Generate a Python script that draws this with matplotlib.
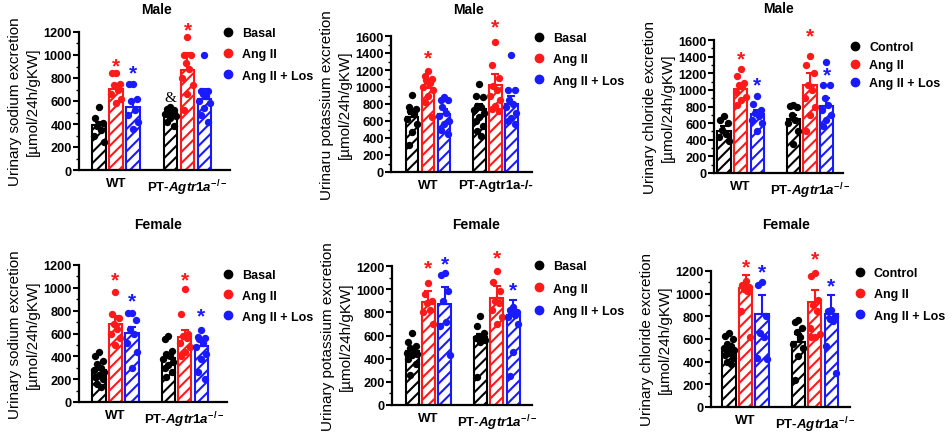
import numpy as np
import matplotlib
matplotlib.use('Agg')
import matplotlib.pyplot as plt
from matplotlib.lines import Line2D
from matplotlib.ticker import MultipleLocator

plt.rcParams['font.family'] = ['Liberation Sans', 'DejaVu Sans']
plt.rcParams['mathtext.fontset'] = 'custom'
plt.rcParams['mathtext.it'] = 'Liberation Sans:italic:bold'
plt.rcParams['mathtext.rm'] = 'Liberation Sans:bold'
plt.rcParams['mathtext.bf'] = 'Liberation Sans:bold'
plt.rcParams['hatch.linewidth'] = 1.5

# ---- dados ----
cores = ['black', '#ff1a1a', '#1a1aff']
pt_label = r'PT-$\mathit{Agtr1a}^{-/-}$'
pt_label_plain = 'PT-Agtr1a-/-'
leg_basal = ['Basal', 'Ang II', 'Ang II + Los']
leg_ctrl = ['Control', 'Ang II', 'Ang II + Los']

# Male sodium
na_m_mean = [390, 702, 552, 494, 870, 621]
na_m_sem = [30, 45, 60, 20, 145, 85]
na_m_pts = [[545, 455, 410, 380, 345, 300, 240],
            [840, 840, 745, 740, 700, 660, 620, 580],
            [745, 745, 620, 600, 520, 480, 420, 360],
            [545, 530, 520, 510, 500, 490, 470, 450, 420, 380],
            [1155, 1000, 1000, 930, 880, 800, 740, 660, 520],
            [1000, 690, 690, 660, 640, 600, 580, 540, 480, 420]]
na_m_star = [None, 905, 847, None, 1222, None]

# Male potassium
k_m_mean = [647, 988, 686, 745, 1020, 800]
k_m_sem = [40, 50, 50, 50, 130, 100]
k_m_pts = [[905, 765, 745, 720, 680, 620, 560, 470, 320],
           [1190, 1130, 1100, 1080, 1050, 1000, 960, 900, 820, 650],
           [880, 845, 845, 760, 700, 660, 600, 560, 500, 450],
           [1040, 900, 880, 780, 760, 730, 700, 650, 600, 540, 480, 420],
           [1530, 1260, 1110, 1010, 960, 900, 850, 780, 740, 720],
           [1380, 960, 960, 850, 800, 760, 700, 640, 600, 560]]
k_m_star = [None, 1341, None, None, 1706, None]

# Male chloride
cl_m_mean = [508, 1016, 708, 648, 1056, 808]
cl_m_sem = [60, 60, 50, 50, 150, 100]
cl_m_pts = [[680, 640, 600, 520, 470, 430, 380],
            [1250, 1170, 1080, 1060, 1050, 980, 920, 880, 820],
            [930, 830, 760, 720, 680, 640, 600, 500],
            [820, 810, 790, 700, 640, 600, 500, 350],
            [1410, 1300, 1200, 1060, 1000, 900, 800, 700, 500],
            [1330, 1060, 1060, 900, 820, 760, 700, 640, 560]]
cl_m_star = [None, 1368, 1056, None, 1648, 1176]

# Female sodium
na_f_mean = [280, 680, 601, 388, 569, 490]
na_f_sem = [20, 70, 60, 30, 60, 45]
na_f_pts = [[440, 400, 360, 330, 300, 280, 260, 240, 220, 200, 160, 130],
            [960, 770, 740, 680, 640, 600, 560, 500],
            [780, 780, 720, 640, 600, 520, 440, 300],
            [580, 550, 450, 420, 400, 380, 350, 320, 300, 260, 220],
            [990, 770, 600, 580, 560, 520, 480, 440, 400],
            [630, 570, 560, 550, 520, 480, 420, 380, 260, 200]]
na_f_star = [None, 1066, 890, None, 1066, 753]

# Female potassium
k_f_mean = [466, 892, 875, 587, 927, 774]
k_f_sem = [25, 90, 145, 30, 100, 130]
k_f_pts = [[620, 540, 510, 490, 470, 450, 440, 430, 400, 350, 260],
           [1050, 960, 900, 880, 820, 800, 700],
           [1140, 1120, 980, 900, 720, 680, 430],
           [770, 680, 620, 600, 590, 580, 560, 540, 240],
           [1160, 1060, 980, 900, 880, 820, 760, 700],
           [850, 820, 800, 790, 780, 760, 700, 460, 250]]
k_f_star = [None, 1180, 1220, None, 1272, 990]

# Female chloride
cl_f_mean = [506, 1053, 824, 574, 926, 824]
cl_f_sem = [30, 108, 165, 70, 110, 160]
cl_f_pts = [[650, 630, 600, 560, 540, 520, 500, 480, 460, 430, 400, 380],
            [1110, 1080, 1060, 1040, 1020, 850, 620],
            [1100, 1080, 800, 650, 620, 430, 420],
            [770, 750, 700, 660, 620, 560, 520, 450, 240],
            [1180, 1160, 940, 900, 850, 700, 640, 620, 620],
            [860, 850, 800, 780, 760, 540, 300]]
cl_f_star = [None, 1235, 1191, None, 1303, 1065]

# ---- layout (pixels, figura 952x435) ----
W, H = 952, 435
paineis = [
    dict(mean=na_m_mean, sem=na_m_sem, pts=na_m_pts, star=na_m_star, amp=True,
         ymax=1200, box=(79, 33, 230, 171), xlim=(-1.18, 7.7),
         ylabel='Urinary sodium excretion\n[µmol/24h/gKW]', title='Male', tpos=(157, 10),
         pt=pt_label, leg=leg_basal, lpos=(222, 28), lsp=0.75),
    dict(mean=k_m_mean, sem=k_m_sem, pts=k_m_pts, star=k_m_star, amp=False,
         ymax=1600, box=(391, 37, 532, 173), xlim=(-1.32, 7.5),
         ylabel='Urinaru potassium excretion\n[µmol/24h/gKW]', title='Male', tpos=(468, 10),
         pt=pt_label_plain, leg=leg_basal, lpos=(533, 33), lsp=0.75),
    dict(mean=cl_m_mean, sem=cl_m_sem, pts=cl_m_pts, star=cl_m_star, amp=False,
         ymax=1600, box=(714, 41, 843, 174), xlim=(-0.61, 7.2),
         ylabel='Urinary chloride excretion\n[µmol/24h/gKW]', title='Male', tpos=(778, 9),
         pt=pt_label, leg=leg_ctrl, lpos=(849, 42), lsp=0.5),
    dict(mean=na_f_mean, sem=na_f_sem, pts=na_f_pts, star=na_f_star, amp=False,
         ymax=1200, box=(79, 266, 227, 403), xlim=(-1.21, 7.76),
         ylabel='Urinary sodium excretion\n[µmol/24h/gKW]', title='Female', tpos=(158, 225),
         pt=pt_label, leg=leg_basal, lpos=(222, 270), lsp=0.7),
    dict(mean=k_f_mean, sem=k_f_sem, pts=k_f_pts, star=k_f_star, amp=False,
         ymax=1200, box=(392, 267, 532, 406), xlim=(-1.23, 7.36),
         ylabel='Urinary potassium excretion\n[µmol/24h/gKW]', title='Female', tpos=(476, 225),
         pt=pt_label, leg=leg_basal, lpos=(533, 261), lsp=0.85),
    dict(mean=cl_f_mean, sem=cl_f_sem, pts=cl_f_pts, star=cl_f_star, amp=False,
         ymax=1200, box=(711, 272, 850, 408), xlim=(-1.09, 7.33),
         ylabel='Urinary chloride excretion\n[µmol/24h/gKW]', title='Female', tpos=(786, 225),
         pt=pt_label, leg=leg_ctrl, lpos=(854, 268), lsp=0.75),
]

gap = 4.2
xpos = np.array([0, 1, 2, gap, gap + 1, gap + 2])
jitter = [0, -0.22, 0.22, -0.11, 0.11, -0.3, 0.3]

fig = plt.figure(figsize=(W / 100, H / 100), dpi=100)

for p in paineis:
    x0, y0, x1, y1 = p['box']
    ax = fig.add_axes([x0 / W, 1 - y1 / H, (x1 - x0) / W, (y1 - y0) / H])
    for i in range(6):
        c = cores[i % 3]
        ax.bar(xpos[i], p['mean'][i], width=0.8, color='white', edgecolor=c,
               hatch='///', linewidth=1.5, zorder=2)
        ax.errorbar(xpos[i], p['mean'][i], yerr=[[0], [p['sem'][i]]], fmt='none',
                    ecolor=c, elinewidth=1.5, capsize=3, capthick=1.5, zorder=2.5)
        vals = p['pts'][i]
        off = [jitter[k % len(jitter)] for k in range(len(vals))]
        ax.scatter(xpos[i] + np.array(off), vals, s=28, color=c, zorder=3,
                   linewidths=0, clip_on=False)
        if p['star'][i] is not None:
            ax.text(xpos[i], p['star'][i], '*', color=c, fontsize=15, fontweight='bold',
                    ha='center', va='center', zorder=4, clip_on=False)
    if p['amp']:
        ax.text(xpos[3], 630, '&', fontsize=11, ha='center', va='center',
                family='Liberation Serif')

    ax.set_xlim(*p['xlim'])
    ax.set_ylim(0, p['ymax'])
    ax.set_yticks(np.arange(0, p['ymax'] + 1, 200))
    ax.yaxis.set_minor_locator(MultipleLocator(100))
    ax.set_xticks([1, gap + 1])
    ax.set_xticklabels(['WT', p['pt']])
    for s in ['top', 'right']:
        ax.spines[s].set_visible(False)
    for s in ['left', 'bottom']:
        ax.spines[s].set_linewidth(1.6)
    ax.tick_params(axis='y', which='major', length=4, width=1.5, labelsize=9.2, pad=1)
    ax.tick_params(axis='y', which='minor', length=2, width=1)
    ax.tick_params(axis='x', length=0, labelsize=9.5, pad=5)
    for t in ax.get_yticklabels() + ax.get_xticklabels():
        t.set_fontweight('bold')
    ax.set_ylabel(p['ylabel'], fontsize=11, labelpad=2.5, linespacing=1.4)

    fig.text(p['tpos'][0] / W, 1 - p['tpos'][1] / H, p['title'], fontsize=10,
             fontweight='bold', ha='center', va='center')

    hs = [Line2D([], [], marker='o', linestyle='', color=c, markersize=6) for c in cores]
    fig.legend(hs, p['leg'], loc='upper left',
               bbox_to_anchor=(p['lpos'][0] / W, 1 - p['lpos'][1] / H),
               frameon=False, borderpad=0, borderaxespad=0, handlelength=1,
               handletextpad=0.6, labelspacing=p['lsp'],
               prop={'weight': 'bold', 'size': 9})

fig.savefig('out.png', dpi=100)
